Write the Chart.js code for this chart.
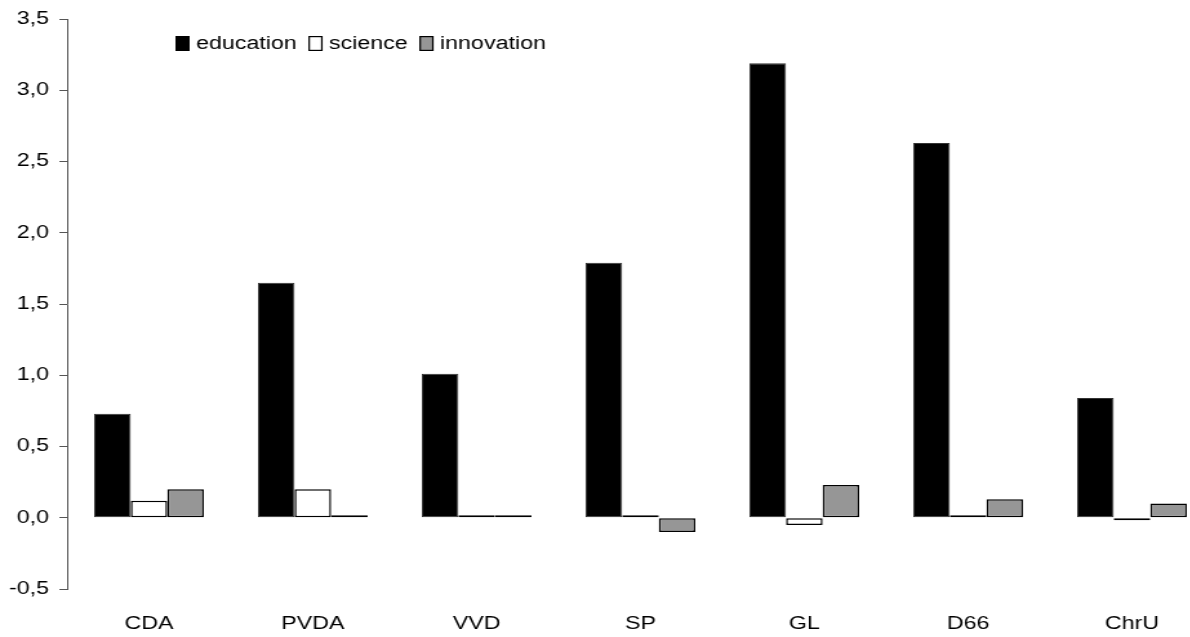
<!DOCTYPE html>
<html>
<head>
<meta charset="utf-8">
<script src="https://cdn.jsdelivr.net/npm/chart.js@4.4.1/dist/chart.umd.min.js"></script>
<style>
  html, body { margin: 0; padding: 0; background: #fff; overflow: hidden; }
  /* the original picture is stretched sideways, so the whole chart is too */
  #wrap { width: 941px; height: 637px; transform: scaleX(1.29); transform-origin: 0 0; }
</style>
</head>
<body>
<div id="wrap"><canvas id="chart" width="941" height="637"></canvas></div>
<script>
var parties = ["CDA", "PVDA", "VVD", "SP", "GL", "D66", "ChrU"];
var education = [0.73, 1.65, 1.01, 1.79, 3.19, 2.63, 0.84];
var science = [0.12, 0.20, 0.01, 0.01, -0.05, 0.01, -0.01];
var innovation = [0.20, 0.01, 0.01, -0.10, 0.23, 0.13, 0.10];
var yTicks = [-0.5, 0.0, 0.5, 1.0, 1.5, 2.0, 2.5, 3.0, 3.5];

var FONT = "'Liberation Sans', Arial, sans-serif";

// small legend drawn inside the plot, top left
var boxLegend = {
    id: 'boxLegend',
    afterDraw: function (chart) {
        var ctx = chart.ctx;
        var x = 136, y = 36;
        ctx.save();
        ctx.font = '18px ' + FONT;
        ctx.textBaseline = 'middle';
        chart.data.datasets.forEach(function (ds) {
            ctx.fillStyle = ds.backgroundColor;
            ctx.fillRect(x, y, 11, 15);
            ctx.strokeStyle = '#000';
            ctx.lineWidth = 1.2;
            ctx.strokeRect(x + 0.6, y + 0.6, 9.8, 13.8);
            ctx.fillStyle = '#000';
            ctx.fillText(ds.label, x + 16, y + 8);
            x += 16 + ctx.measureText(ds.label).width + 9;
        });
        ctx.restore();
    }
};

new Chart(document.getElementById("chart"), {
    type: 'bar',
    data: {
        labels: parties,
        datasets: [
            { label: "education", data: education, backgroundColor: "#000000", borderColor: "#333333", borderWidth: 1 },
            { label: "science", data: science, backgroundColor: "#ffffff", borderColor: "#000000", borderWidth: 1.5 },
            { label: "innovation", data: innovation, backgroundColor: "#969696", borderColor: "#000000", borderWidth: 1.5 }
        ]
    },
    options: {
        responsive: false,
        animation: false,
        layout: { padding: { top: 19, left: 0, right: 0, bottom: 0 } },
        datasets: { bar: { categoryPercentage: 0.67, barPercentage: 1.0, minBarLength: 2.5, borderSkipped: false } },
        plugins: {
            legend: { display: false },
            tooltip: { enabled: false }
        },
        scales: {
            x: {
                grid: { display: false, drawTicks: false },
                border: { display: false },
                ticks: { color: '#000', font: { family: FONT, size: 18 }, padding: 24 },
                afterFit: function (s) { s.height = 48; }
            },
            y: {
                min: -0.5,
                max: 3.5,
                afterBuildTicks: function (s) { s.ticks = yTicks.map(function (v) { return { value: v }; }); },
                grid: { drawOnChartArea: false, tickLength: 6, color: '#555' },
                border: { display: true, color: '#555', width: 1 },
                ticks: {
                    color: '#000',
                    padding: 8,
                    font: { family: FONT, size: 18 },
                    callback: function (v) { return v.toFixed(1).replace('.', ','); }
                },
                afterFit: function (s) { s.width = 52; }
            }
        }
    },
    plugins: [boxLegend]
});
</script>
</body>
</html>
